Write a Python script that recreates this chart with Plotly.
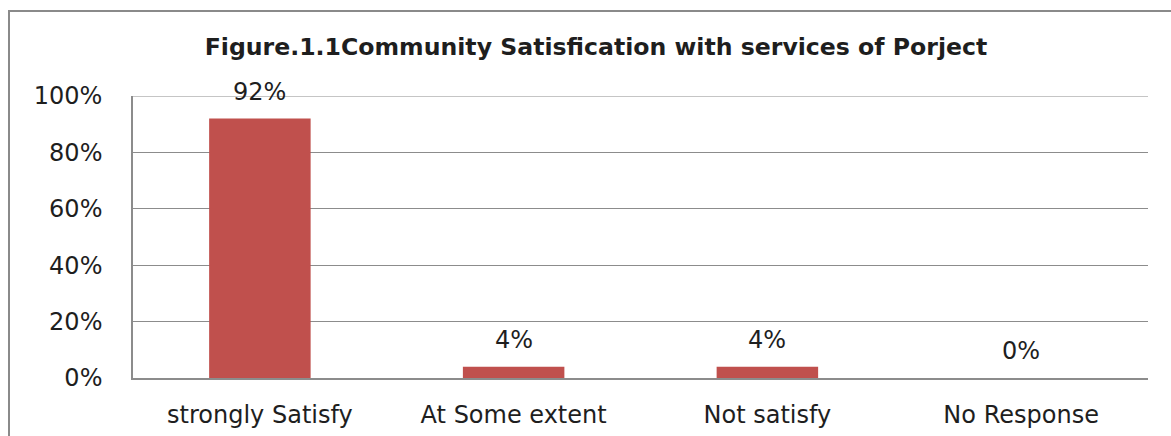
import plotly.graph_objects as go

# Survey results: community satisfaction with project services
categories = ["strongly Satisfy", "At Some extent", "Not satisfy", "No Response"]
shares = [92, 4, 4, 0]          # percent of respondents
y_ticks = [0, 20, 40, 60, 80, 100]
title_text = "Figure.1.1Community Satisfication with services of Porject"

BAR_COLOR = "#C0504D"
GRID_COLOR = "#8C8C8C"
TEXT_COLOR = "#1E1E1E"
FONT = "DejaVu Sans"

W, H = 1171, 436
M_L, M_R, M_T, M_B = 133, 23, 96, 58
plot_w = W - M_L - M_R
plot_h = H - M_T - M_B

values = [s / 100 for s in shares]
tick_vals = [t / 100 for t in y_ticks]

fig = go.Figure(
    go.Bar(
        x=categories,
        y=values,
        marker=dict(color=BAR_COLOR, line=dict(width=0)),
        hoverinfo="skip",
    )
)

# value labels above each bar
for cat, s, v in zip(categories, shares, values):
    fig.add_annotation(
        x=cat, y=v, xref="x", yref="y",
        text=f"{s}%", showarrow=False,
        yanchor="bottom", yshift=11,
        font=dict(family=FONT, size=24, color=TEXT_COLOR),
    )

# grid line at the top of the value range (plotly skips the one on the edge)
fig.add_shape(type="line", xref="paper", yref="y", layer="below",
              x0=0, x1=1, y0=tick_vals[-1], y1=tick_vals[-1],
              line=dict(color=GRID_COLOR, width=1))

# outer chart frame (top and left edges)
def px_x(px):
    return (px - M_L) / plot_w

def px_y(py):
    return (H - M_B - py) / plot_h

frame = dict(color="#8A8A8A", width=2)
fig.add_shape(type="line", xref="paper", yref="paper",
              x0=px_x(8), x1=px_x(W + 2), y0=px_y(11), y1=px_y(11), line=frame)
fig.add_shape(type="line", xref="paper", yref="paper",
              x0=px_x(9), x1=px_x(9), y0=px_y(11), y1=px_y(H + 2), line=frame)

fig.update_layout(
    width=W, height=H,
    margin=dict(l=M_L, r=M_R, t=M_T, b=M_B, autoexpand=False),
    paper_bgcolor="white", plot_bgcolor="white",
    bargap=0.6,
    showlegend=False,
    font=dict(family=FONT, size=24, color=TEXT_COLOR),
    title=dict(
        text=f"<b>{title_text}</b>",
        xref="paper", yref="container",
        x=(596 - M_L) / plot_w, xanchor="center",
        y=1 - 47 / H, yanchor="middle",
        font=dict(family=FONT, size=23.6, color=TEXT_COLOR),
    ),
    xaxis=dict(
        showgrid=False, showline=True, linecolor=GRID_COLOR, linewidth=1.5,
        ticks="", ticklabelstandoff=14,
        tickfont=dict(family=FONT, size=24, color=TEXT_COLOR),
        fixedrange=True,
    ),
    yaxis=dict(
        range=[0, 1], tickvals=tick_vals,
        tickformat=".0%",
        showgrid=True, gridcolor=GRID_COLOR, gridwidth=1,
        showline=True, linecolor=GRID_COLOR, linewidth=1.5,
        zeroline=False,
        ticks="", ticklabelstandoff=24,
        tickfont=dict(family=FONT, size=24, color=TEXT_COLOR),
        fixedrange=True,
    ),
)

fig.write_html("out.html", config={"displayModeBar": False})
